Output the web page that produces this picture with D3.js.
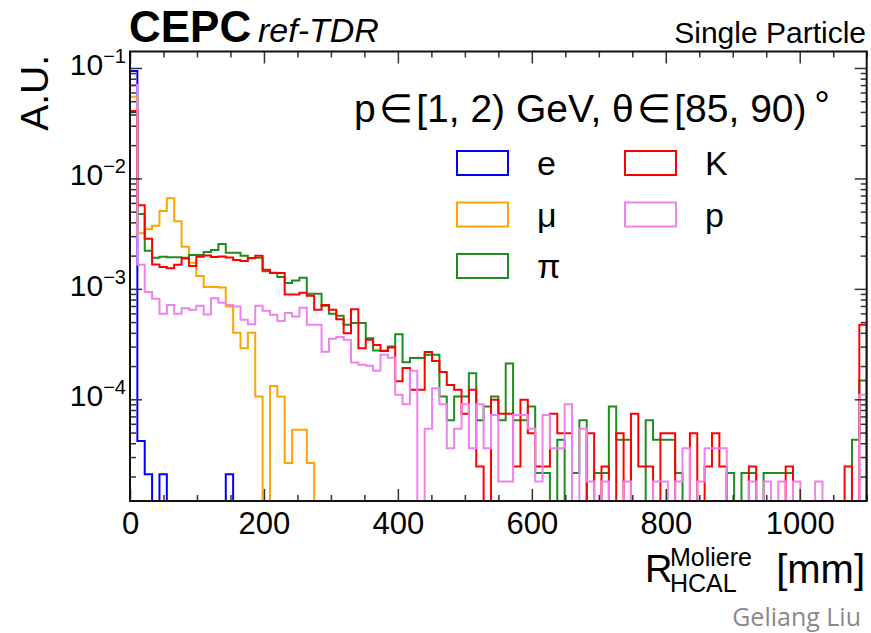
<!DOCTYPE html>
<html>
<head>
<meta charset="utf-8">
<script src="https://cdn.jsdelivr.net/npm/d3@7/dist/d3.min.js"></script>
<style>
body { margin: 0; background: #fff; }
svg { display: block; font-family: "Liberation Sans", Arial, Helvetica, sans-serif; }
</style>
</head>
<body>
<svg id="chart" width="871" height="633"></svg>
<script>
// binning of R_HCAL^Moliere [mm]
var binWidth = 11;
var xMax = 1100;

var names = ['e', 'μ', 'π', 'K', 'p'];
var colors = ['#0000ff', '#ffa500', '#1e8c1e', '#ff0000', '#ee82ee'];

var eVals = [
	9.39e-2, 4.2e-5, 2.1e-5, 0, 2.1e-5, 0, 0, 0, 0, 0,
	0, 0, 0, 2.1e-5, 0, 0, 0, 0, 0, 0,
	0, 0, 0, 0, 0, 0, 0, 0, 0, 0,
	0, 0, 0, 0, 0, 0, 0, 0, 0, 0,
	0, 0, 0, 0, 0, 0, 0, 0, 0, 0,
	0, 0, 0, 0, 0, 0, 0, 0, 0, 0,
	0, 0, 0, 0, 0, 0, 0, 0, 0, 0,
	0, 0, 0, 0, 0, 0, 0, 0, 0, 0,
	0, 0, 0, 0, 0, 0, 0, 0, 0, 0,
	0, 0, 0, 0, 0, 0, 0, 0, 0, 0
];

var muVals = [
	5.50e-2, 3.18e-3, 3.46e-3, 3.72e-3, 5.08e-3, 6.62e-3, 4.10e-3, 2.40e-3, 1.72e-3, 1.31e-3,
	1.04e-3, 1.04e-3, 1.03e-3, 6.92e-4, 4.0e-4, 2.9e-4, 4.0e-4, 1.06e-4, 0, 1.32e-4,
	1.06e-4, 2.65e-5, 5.3e-5, 5.3e-5, 2.65e-5, 0, 0, 0, 0, 0,
	0, 0, 0, 0, 0, 0, 0, 0, 0, 0,
	0, 0, 0, 0, 0, 0, 0, 0, 0, 0,
	0, 0, 0, 0, 0, 0, 0, 0, 0, 0,
	0, 0, 0, 0, 0, 0, 0, 0, 0, 0,
	0, 0, 0, 0, 0, 0, 0, 0, 0, 0,
	0, 0, 0, 0, 0, 0, 0, 0, 0, 0,
	0, 0, 0, 0, 0, 0, 0, 0, 0, 0
];

var piVals = [
	3.76e-2, 4.77e-3, 2.21e-3, 1.91e-3, 1.95e-3, 1.93e-3, 1.93e-3, 1.91e-3, 2.03e-3, 2.03e-3,
	2.16e-3, 2.25e-3, 2.55e-3, 2.12e-3, 2.12e-3, 1.99e-3, 1.89e-3, 1.91e-3, 1.44e-3, 1.40e-3,
	1.28e-3, 1.13e-3, 1.19e-3, 1.26e-3, 9.01e-4, 9.01e-4, 7.02e-4, 5.94e-4, 5.70e-4, 4.72e-4,
	4.92e-4, 4.92e-4, 3.58e-4, 2.77e-4, 2.75e-4, 3.00e-4, 3.88e-4, 2.16e-4, 2.36e-4, 2.36e-4,
	2.53e-4, 2.53e-4, 1.06e-4, 6.45e-5, 1.06e-4, 1.06e-4, 1.72e-4, 6.45e-5, 8.6e-5, 1.06e-4,
	6.45e-5, 2.11e-4, 6.45e-5, 6.45e-5, 8.6e-5, 2.15e-5, 2.15e-5, 0, 4.3e-5, 0,
	2.15e-5, 6.45e-5, 0, 2.15e-5, 2.15e-5, 8.6e-5, 4.3e-5, 4.3e-5, 0, 0,
	6.45e-5, 4.3e-5, 4.3e-5, 4.3e-5, 2.15e-5, 0, 0, 0, 0, 0,
	0, 2.15e-5, 0, 2.15e-5, 2.15e-5, 0, 2.15e-5, 2.15e-5, 2.15e-5, 2.15e-5,
	0, 0, 0, 0, 0, 0, 0, 0, 4.3e-5, 1.48e-4
];

var kVals = [
	4.08e-2, 5.72e-3, 2.85e-3, 1.66e-3, 1.58e-3, 1.54e-3, 1.65e-3, 1.88e-3, 1.61e-3, 1.95e-3,
	2.00e-3, 1.94e-3, 1.96e-3, 1.92e-3, 1.83e-3, 1.79e-3, 1.90e-3, 1.99e-3, 1.49e-3, 1.39e-3,
	1.39e-3, 8.88e-4, 8.88e-4, 9.20e-4, 8.64e-4, 6.46e-4, 7.16e-4, 6.46e-4, 5.30e-4, 3.97e-4,
	6.55e-4, 2.90e-4, 3.46e-4, 3.11e-4, 2.74e-4, 2.94e-4, 1.46e-4, 1.92e-4, 1.22e-4, 1.22e-4,
	2.68e-4, 2.22e-4, 1.77e-4, 1.35e-4, 1.22e-4, 7.4e-5, 1.22e-4, 2.47e-5, 0, 9.9e-5,
	7.4e-5, 7.4e-5, 2.47e-5, 9.9e-5, 4.94e-5, 2.47e-5, 2.47e-5, 7.4e-5, 4.94e-5, 4.94e-5,
	0, 0, 4.94e-5, 0, 2.47e-5, 0, 4.94e-5, 0, 7.4e-5, 2.47e-5,
	2.47e-5, 0, 4.94e-5, 4.94e-5, 0, 0, 4.94e-5, 0, 2.47e-5, 4.94e-5,
	2.47e-5, 0, 0, 0, 2.47e-5, 0, 0, 0, 0, 2.47e-5,
	0, 0, 0, 0, 0, 0, 0, 2.47e-5, 0, 4.72e-4
];

var pVals = [
	7.02e-2, 1.65e-3, 9.39e-4, 8.12e-4, 5.94e-4, 7.16e-4, 5.94e-4, 6.69e-4, 6.46e-4, 7.02e-4,
	5.85e-4, 8.24e-4, 7.47e-4, 7.16e-4, 6.91e-4, 5.24e-4, 4.77e-4, 7.02e-4, 6.32e-4, 5.82e-4,
	5.13e-4, 6.06e-4, 5.61e-4, 6.73e-4, 4.72e-4, 4.72e-4, 2.69e-4, 3.54e-4, 3.66e-4, 3.46e-4,
	2.15e-4, 2.05e-4, 2.01e-4, 1.81e-4, 2.53e-4, 2.38e-4, 1.10e-4, 9.0e-5, 1.81e-4, 0,
	5.4e-5, 1.26e-4, 9.0e-5, 3.6e-5, 5.4e-5, 9.0e-5, 3.6e-5, 9.0e-5, 3.6e-5, 7.2e-5,
	1.8e-5, 1.8e-5, 7.2e-5, 7.2e-5, 5.4e-5, 1.8e-5, 7.2e-5, 3.6e-5, 3.6e-5, 9.0e-5,
	0, 5.4e-5, 1.8e-5, 0, 1.8e-5, 0, 0, 1.8e-5, 0, 0,
	0, 1.8e-5, 1.8e-5, 0, 1.8e-5, 3.6e-5, 0, 1.8e-5, 3.6e-5, 3.6e-5,
	3.6e-5, 0, 0, 0, 1.8e-5, 0, 1.8e-5, 0, 1.8e-5, 0,
	1.8e-5, 0, 0, 1.8e-5, 0, 0, 0, 0, 0, 1.10e-4
];

var xMajor = [0, 200, 400, 600, 800, 1000];
var yMajor = [1e-4, 1e-3, 1e-2, 1e-1];
var yExp = ['−4', '−3', '−2', '−1'];

var allVals = [eVals, muVals, piVals, kVals, pVals];

var svg = d3.select('#chart');
var pL = 130, pR = 866.7, pT = 51.5, pB = 501;

var x = d3.scaleLinear().domain([0, xMax]).range([pL, pR]);
var y = d3.scaleLog().domain([1.2e-5, 0.141]).range([pB, pT]);

svg.append('clipPath').attr('id', 'plotclip')
	.append('rect').attr('x', pL).attr('y', pT)
	.attr('width', pR - pL).attr('height', pB - pT);

function histPath(vals) {
	var pts = [[x(0), pB]];
	vals.forEach(function(v, i) {
		var yy = v > 0 ? Math.max(pT, Math.min(pB, y(v))) : pB + 2;
		pts.push([x(i * binWidth), yy]);
		pts.push([x((i + 1) * binWidth), yy]);
	});
	pts.push([x(xMax), pB + 2]);
	return d3.line()(pts);
}

var gh = svg.append('g').attr('clip-path', 'url(#plotclip)');
allVals.forEach(function(vals, i) {
	gh.append('path')
		.attr('d', histPath(vals))
		.attr('fill', 'none')
		.attr('stroke', colors[i])
		.attr('stroke-width', 2)
		.attr('stroke-linejoin', 'miter');
});

// minor tick positions
var xMinor = d3.range(0, xMax + 1, 50).filter(function(v) { return v % 200 != 0; });
var yMinor = [];
[-5, -4, -3, -2, -1].forEach(function(d) {
	for (var m = 2; m <= 9; m++) {
		var v = m * Math.pow(10, d);
		if (v > 1.2e-5 && v < 0.141) yMinor.push(v);
	}
});

function tickStyle(g) {
	g.select('.domain').remove();
	g.selectAll('line').attr('stroke', '#333').attr('stroke-width', 1.5);
	g.attr('font-family', null).attr('font-size', null);
}

// x axis (bottom with labels, top mirrored)
var gx = svg.append('g').attr('transform', 'translate(0,' + pB + ')')
	.call(d3.axisBottom(x).tickValues(xMajor).tickSizeInner(-12).tickSizeOuter(0)
		.tickPadding(11).tickFormat(d3.format('d')))
	.call(tickStyle);
gx.selectAll('text').attr('font-size', 31).attr('fill', '#000');
svg.append('g').attr('transform', 'translate(0,' + pB + ')')
	.call(d3.axisBottom(x).tickValues(xMinor).tickSizeInner(-6).tickSizeOuter(0).tickFormat(''))
	.call(tickStyle);
svg.append('g').attr('transform', 'translate(0,' + pT + ')')
	.call(d3.axisTop(x).tickValues(xMajor).tickSizeInner(-12).tickSizeOuter(0).tickFormat(''))
	.call(tickStyle);
svg.append('g').attr('transform', 'translate(0,' + pT + ')')
	.call(d3.axisTop(x).tickValues(xMinor).tickSizeInner(-6).tickSizeOuter(0).tickFormat(''))
	.call(tickStyle);

// y axis (left with labels, right mirrored)
var gy = svg.append('g').attr('transform', 'translate(' + pL + ',0)')
	.call(d3.axisLeft(y).tickValues(yMajor).tickSizeInner(-12).tickSizeOuter(0).tickPadding(4))
	.call(tickStyle);
gy.selectAll('text').each(function(d, i) {
	var t = d3.select(this).text(null).attr('fill', '#000').attr('dy', '0.4em');
	t.append('tspan').attr('font-size', 30).text('10');
	t.append('tspan').attr('font-size', 20).attr('dy', -12).text(yExp[i]);
});
svg.append('g').attr('transform', 'translate(' + pL + ',0)')
	.call(d3.axisLeft(y).tickValues(yMinor).tickSizeInner(-6).tickSizeOuter(0).tickFormat(''))
	.call(tickStyle);
svg.append('g').attr('transform', 'translate(' + pR + ',0)')
	.call(d3.axisRight(y).tickValues(yMajor).tickSizeInner(-12).tickSizeOuter(0).tickFormat(''))
	.call(tickStyle);
svg.append('g').attr('transform', 'translate(' + pR + ',0)')
	.call(d3.axisRight(y).tickValues(yMinor).tickSizeInner(-6).tickSizeOuter(0).tickFormat(''))
	.call(tickStyle);

// frame
svg.append('rect')
	.attr('x', pL).attr('y', pT)
	.attr('width', pR - pL).attr('height', pB - pT)
	.attr('fill', 'none').attr('stroke', '#111').attr('stroke-width', 2);

// titles
svg.append('text').attr('x', 129).attr('y', 42)
	.attr('font-size', 44).attr('font-weight', 'bold').text('CEPC');
svg.append('text').attr('x', 258).attr('y', 42)
	.attr('font-size', 34).attr('font-style', 'italic').text('ref-TDR');
svg.append('text').attr('x', 866).attr('y', 43).attr('text-anchor', 'end')
	.attr('font-size', 30).text('Single Particle');

var hdr = svg.append('text').attr('x', 592).attr('y', 122).attr('text-anchor', 'middle')
	.attr('font-size', 39);
hdr.append('tspan').text('p\u200a∈\u200a[1, 2) GeV, θ\u200a∈\u200a[85, 90)\u2009');
hdr.append('tspan').attr('dy', -4).text('°');

// legend
var legendPos = [[457, 151], [457, 202.5], [457, 254], [625, 151], [625, 202.5]];
var lg = svg.append('g');
names.forEach(function(n, i) {
	var p = legendPos[i];
	lg.append('rect').attr('x', p[0]).attr('y', p[1])
		.attr('width', 51).attr('height', 24)
		.attr('fill', 'none').attr('stroke', colors[i]).attr('stroke-width', 2);
	lg.append('text').attr('x', p[0] + 80).attr('y', p[1] + 24)
		.attr('font-size', 34).text(n);
});

// axis titles
svg.append('text').attr('transform', 'translate(48,55) rotate(-90)')
	.attr('text-anchor', 'end').attr('font-size', 39).text('A.U.');

var xt = svg.append('g');
xt.append('text').attr('x', 645).attr('y', 582).attr('font-size', 38).text('R');
xt.append('text').attr('x', 670).attr('y', 566).attr('font-size', 25).text('Moliere');
xt.append('text').attr('x', 670).attr('y', 592).attr('font-size', 25).text('HCAL');
xt.append('text').attr('x', 865).attr('y', 583).attr('text-anchor', 'end')
	.attr('font-size', 40).text('[mm]');

svg.append('text').attr('x', 861).attr('y', 626).attr('text-anchor', 'end')
	.attr('font-family', '"Open Sans", sans-serif').attr('font-size', 25)
	.attr('fill', '#8a8a8a').text('Geliang Liu');
</script>
</body>
</html>
